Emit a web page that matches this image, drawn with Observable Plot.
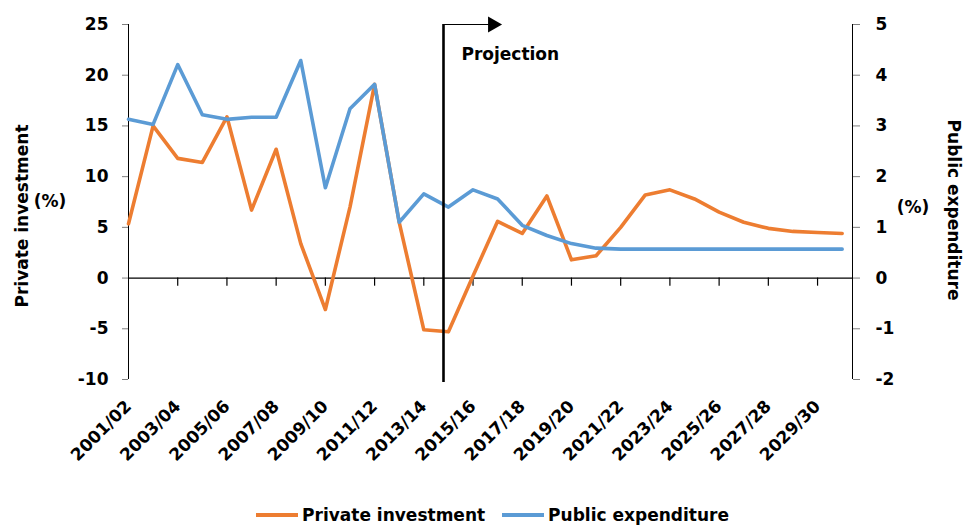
<!DOCTYPE html>
<html><head><meta charset="utf-8">
<script src="https://cdn.jsdelivr.net/npm/d3@7"></script>
<script src="https://cdn.jsdelivr.net/npm/@observablehq/plot@0.6"></script>
<style>
body{margin:0;background:#fff;font-family:"DejaVu Sans",sans-serif;}
#chart svg{display:block;}
#legend{height:29px;display:flex;justify-content:center;align-items:center;gap:17px;font-weight:bold;font-size:17px;color:#000;padding-left:20px;box-sizing:border-box;}
#legend .item{display:flex;align-items:center;gap:4px;}
#legend .sw{width:42px;height:4px;display:inline-block;}
</style></head><body>
<div id="chart"></div>
<div id="legend"></div>
<script>
const years = ["2001/02","2002/03","2003/04","2004/05","2005/06","2006/07","2007/08","2008/09","2009/10","2010/11",
  "2011/12","2012/13","2013/14","2014/15","2015/16","2016/17","2017/18","2018/19","2019/20","2020/21",
  "2021/22","2022/23","2023/24","2024/25","2025/26","2026/27","2027/28","2028/29","2029/30","2030/31"];
const privateInvestment = [5.35,15.0,11.8,11.4,15.9,6.7,12.7,3.4,-3.1,7.0,
  19.1,5.5,-5.1,-5.3,0.2,5.6,4.4,8.1,1.8,2.2,
  5.0,8.2,8.7,7.8,6.5,5.5,4.9,4.6,4.5,4.4];
const publicExpenditure = [3.13,3.03,4.21,3.22,3.13,3.17,3.17,4.29,1.78,3.34,
  3.82,1.10,1.66,1.40,1.74,1.56,1.04,0.84,0.68,0.59,
  0.57,0.57,0.57,0.57,0.57,0.57,0.57,0.57,0.57,0.57];
const leftTicks = [-10,-5,0,5,10,15,20,25];
const rightTicks = [-2,-1,0,1,2,3,4,5];
const labelledYears = ["2001/02","2003/04","2005/06","2007/08","2009/10","2011/12","2013/14","2015/16",
  "2017/18","2019/20","2021/22","2023/24","2025/26","2027/28","2029/30"];
const projectionAt = 12.8;      // category position of projection line
const projectionArrowEnd = 15.1;
const projectionLabel = "Projection";
const seriesNames = ["Private investment","Public expenditure"];
const colors = ["#ED7D31","#5B9BD5"];
const xMax = 29.42;
const ratio = 5; // left / right axis

const FONT = "DejaVu Sans";
const rows = years.map((y,i)=>({i, year:y, pi:privateInvestment[i], pe:publicExpenditure[i]}));
const labelIdx = labelledYears.map(l=>years.indexOf(l));

const plot = Plot.plot({
  width:965, height:500,
  marginTop:24, marginBottom:121, marginLeft:128, marginRight:113,
  style:{fontFamily:FONT, fontSize:"17px", fontWeight:"bold", color:"#000", background:"#fff"},
  x:{type:"linear", domain:[0,xMax]},
  y:{domain:[-10,25]},
  marks:[
    Plot.axisY({anchor:"left", ticks:leftTicks, tickFormat:d=>String(d), tickSize:6, tickPadding:14, label:null, stroke:"#7f7f7f"}),
    Plot.axisY({anchor:"right", ticks:rightTicks.map(d=>d*ratio), tickFormat:d=>String(d/ratio), tickSize:7, tickPadding:16, label:null, stroke:"#7f7f7f"}),
    Plot.axisX({anchor:"bottom", ticks:labelIdx, tickFormat:i=>years[i], tickRotate:-45, tickSize:0, tickPadding:24, label:null}),
    Plot.ruleX([0], {y1:-10, y2:25, stroke:"#000", strokeWidth:1}),
    Plot.ruleX([xMax], {y1:-10, y2:25, stroke:"#000", strokeWidth:1}),
    Plot.ruleY([0], {x1:0, x2:xMax, stroke:"#000", strokeWidth:1.2}),
    Plot.ruleX(labelIdx.filter(i=>i>0), {x:d=>d, y1:0, y2:-0.8, stroke:"#000", strokeWidth:1.2}),
    Plot.line(rows, {x:"i", y:"pi", stroke:colors[0], strokeWidth:3.6, strokeLinejoin:"round"}),
    Plot.line(rows, {x:"i", y:d=>d.pe*ratio, stroke:colors[1], strokeWidth:3.6, strokeLinejoin:"round"}),
    Plot.ruleX([projectionAt], {y1:-10.3, y2:25, stroke:"#000", strokeWidth:2.6}),
    Plot.ruleY([25], {x1:projectionAt, x2:projectionArrowEnd-0.4, stroke:"#000", strokeWidth:1.2}),
    Plot.dot([projectionArrowEnd-0.3], {x:d=>d, y:25, symbol:"triangle", r:6, fill:"#000", stroke:null, rotate:90}),
    Plot.text([projectionLabel], {x:projectionAt+0.73, y:22.0, text:d=>d, textAnchor:"start", fontSize:17, fontWeight:"bold", fill:"#000"})
  ]
});
document.getElementById("chart").append(plot);

const svg = d3.select(plot);
const addText = (x,y,t,rot)=>svg.append("text").attr("transform",`translate(${x},${y}) rotate(${rot})`)
  .attr("text-anchor","middle").attr("dominant-baseline","middle")
  .attr("font-family",FONT).attr("font-size",17).attr("font-weight","bold").attr("fill","#000").text(t);
addText(23,216,"Private investment",-90);
addText(50,202,"(%)",0);
addText(953,210,"Public expenditure",90);
addText(913,208,"(%)",0);

const legend = d3.select("#legend");
seriesNames.forEach((n,k)=>{
  const it = legend.append("div").attr("class","item");
  it.append("span").attr("class","sw").style("background",colors[k]);
  it.append("span").text(n);
});
</script></body></html>
